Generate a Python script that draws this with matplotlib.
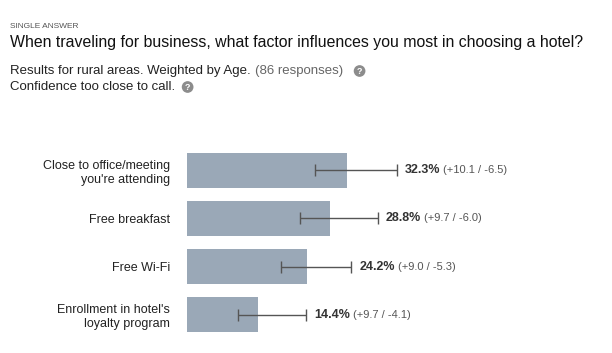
import matplotlib
matplotlib.use('Agg')
import matplotlib.pyplot as plt

plt.rcParams['font.family'] = ['Liberation Sans', 'DejaVu Sans']

# data
categories = ["Close to office/meeting\nyou're attending",
              "Free breakfast",
              "Free Wi-Fi",
              "Enrollment in hotel's\nloyalty program"]
values = [32.3, 28.8, 24.2, 14.4]
err_plus = [10.1, 9.7, 9.0, 9.7]
err_minus = [6.5, 6.0, 5.3, 4.1]

W, H = 612, 353
fig = plt.figure(figsize=(W / 100, H / 100), dpi=100)

# axes: bars start at x=187px, rows 48px apart
ax = fig.add_axes([187 / W, (H - 338.5) / H, (W - 187) / W, 192 / H])
ypos = list(range(len(categories)))
ax.barh(ypos, values, height=0.73, color='#9aa8b7', zorder=1)
ax.errorbar(values, ypos, xerr=[err_minus, err_plus], fmt='none',
            ecolor='#555555', elinewidth=1.0, capsize=4, capthick=1.0, zorder=2)

ax.set_xlim(0, (W - 187) / 4.95)
ax.set_ylim(3.5, -0.5)
ax.set_yticks(ypos)
ax.set_yticklabels(categories, fontsize=9, color='#222222')
ax.tick_params(axis='y', length=0, pad=12)
ax.set_xticks([])
for s in ax.spines.values():
    s.set_visible(False)

# value labels
for i, v in enumerate(values):
    t = ax.annotate(f'{v:.1f}%', xy=(v + err_plus[i], i), xytext=(6, 0),
                    textcoords='offset points', va='center', ha='left',
                    fontsize=9, fontweight='bold', color='#333333')
    ax.annotate(f'(+{err_plus[i]:.1f} / -{err_minus[i]:.1f})', xy=(1, 0.5),
                xycoords=t, xytext=(2, 0), textcoords='offset points',
                va='center', ha='left', fontsize=8, color='#555555')

# header texts
fig.text(10 / W, 1 - 26 / H, 'SINGLE ANSWER', fontsize=6, color='#555555',
         va='center', ha='left')
fig.text(10 / W, 1 - 42 / H,
         'When traveling for business, what factor influences you most in choosing a hotel?',
         fontsize=11.4, color='#111111', va='center', ha='left')

help_box = dict(boxstyle='circle,pad=0.15', fc='#8c8c8c', ec='none')

t1 = fig.text(10 / W, 1 - 71 / H, 'Results for rural areas. Weighted by Age.',
              fontsize=9.5, color='#222222', va='center', ha='left')
t2 = plt.annotate('(86 responses)', xy=(1, 0.5), xycoords=t1, xytext=(3, 0),
                  textcoords='offset points', va='center', ha='left',
                  fontsize=9.5, color='#666666', annotation_clip=False)
plt.annotate('?', xy=(1, 0.5), xycoords=t2, xytext=(12, 0),
             textcoords='offset points', va='center', ha='center',
             fontsize=6.5, fontweight='bold', color='white', bbox=help_box,
             annotation_clip=False)

t3 = fig.text(10 / W, 1 - 87 / H, 'Confidence too close to call.',
              fontsize=9.5, color='#222222', va='center', ha='left')
plt.annotate('?', xy=(1, 0.5), xycoords=t3, xytext=(9, 0),
             textcoords='offset points', va='center', ha='center',
             fontsize=6.5, fontweight='bold', color='white', bbox=help_box,
             annotation_clip=False)

fig.savefig('out.png', dpi=100)
